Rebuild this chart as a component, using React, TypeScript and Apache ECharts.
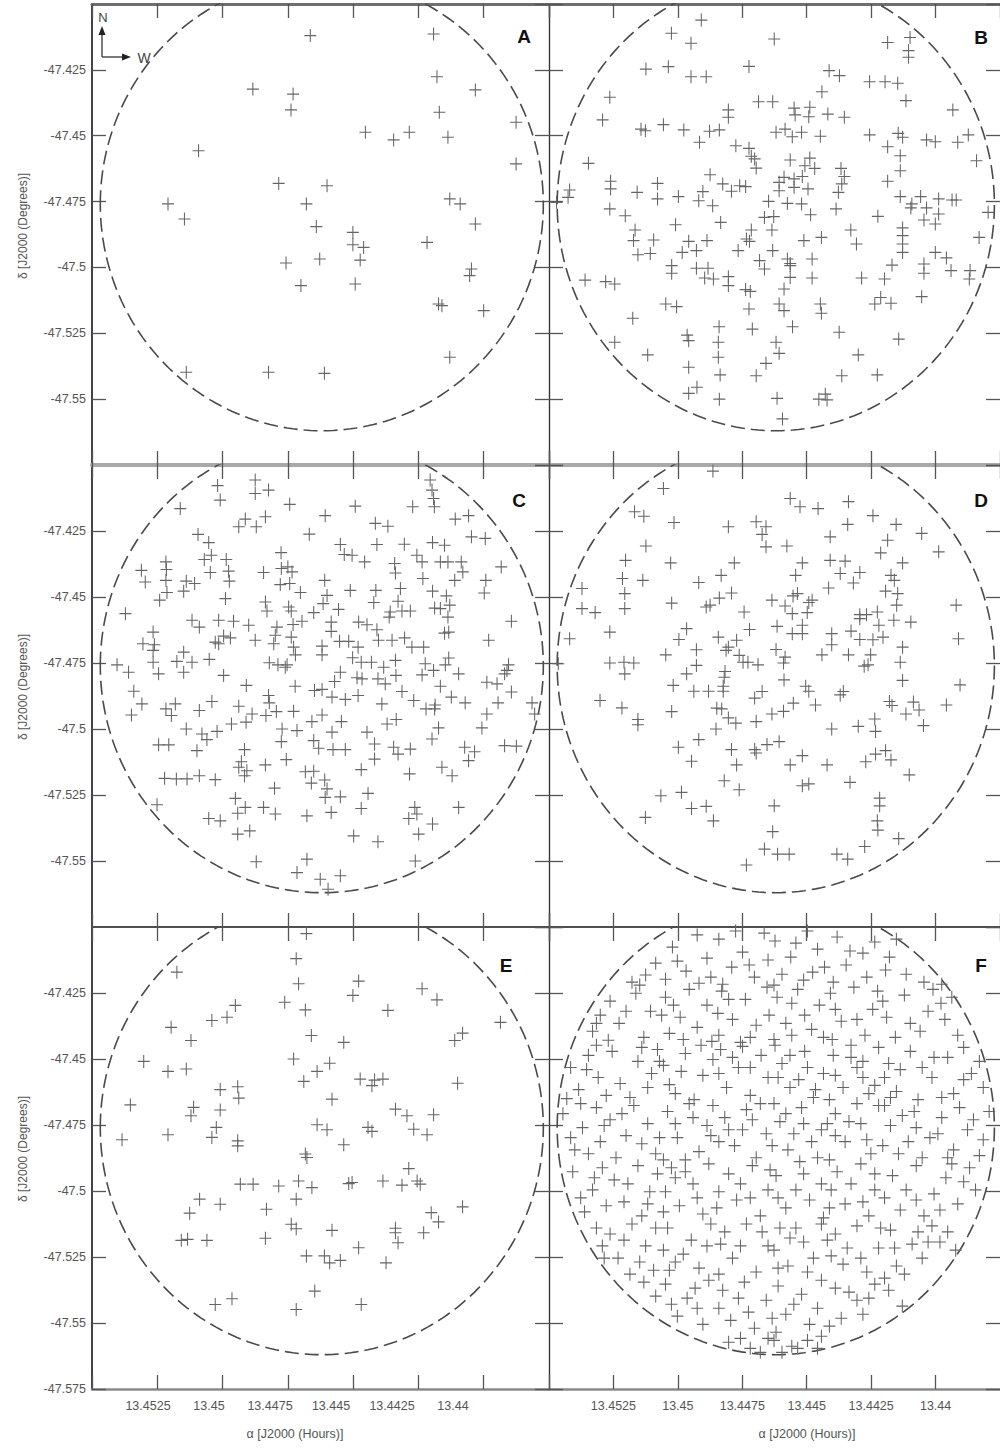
import { useEffect, useRef } from "react";
import * as echarts from "echarts";

const RA_MIN = 13.4375;
const RA_MAX = 13.455;
const RA_STEP = 0.0025;
const DEC_MIN = -47.575;
const DEC_MAX = -47.4;
const DEC_STEP = 0.025;

const FIELD_RA = 13.4462;
const FIELD_DEC = -47.476;
const FIELD_RADIUS_DEG = 0.086;

const panelLetters = ["A", "B", "C", "D", "E", "F"];
const xAxisTitle = "α [J2000 (Hours)]";
const yAxisTitle = "δ [J2000 (Degrees)]";

const panelA = [
[13.44664,-47.4120],[13.44192,-47.4114],[13.44179,-47.4276],[13.44032,-47.4326],[13.44884,-47.4323],[13.44730,-47.4342],[13.44738,-47.4402],[13.44170,-47.4411],[13.43876,-47.4449],[13.44453,-47.4487],[13.44345,-47.4516],[13.44285,-47.4487],[13.44137,-47.4506],[13.45092,-47.4557],[13.43876,-47.4607],[13.44785,-47.4681],[13.44600,-47.4690],[13.45209,-47.4759],[13.44679,-47.4759],[13.44130,-47.4740],[13.44090,-47.4759],[13.45146,-47.4816],[13.44641,-47.4845],[13.44032,-47.4835],[13.44501,-47.4867],[13.44501,-47.4914],[13.44460,-47.4924],[13.44217,-47.4905],[13.44628,-47.4968],[13.44473,-47.4972],[13.44757,-47.4983],[13.44047,-47.5006],[13.44054,-47.5031],[13.44700,-47.5069],[13.44492,-47.5063],[13.44173,-47.5139],[13.44160,-47.5145],[13.44000,-47.5164],[13.44130,-47.5341],[13.45139,-47.5398],[13.44824,-47.5398],[13.44610,-47.5402]
];

const panelB = [
[13.44909,-47.4061],[13.45025,-47.4111],[13.44626,-47.4133],[13.44949,-47.4149],[13.44186,-47.4146],[13.44099,-47.4127],[13.44105,-47.4177],[13.44105,-47.4202],[13.45124,-47.4247],[13.45037,-47.4238],[13.44724,-47.4237],[13.44949,-47.4276],[13.44890,-47.4276],[13.44413,-47.4253],[13.44373,-47.4272],[13.44256,-47.4295],[13.44196,-47.4295],[13.44147,-47.4301],[13.45264,-47.4354],[13.44441,-47.4333],[13.44115,-47.4367],[13.44687,-47.4371],[13.44632,-47.4371],[13.44804,-47.4402],[13.44804,-47.4430],[13.44549,-47.4395],[13.44488,-47.4392],[13.44545,-47.4421],[13.44492,-47.4428],[13.44418,-47.4418],[13.44354,-47.4430],[13.43933,-47.4402],[13.45292,-47.4440],[13.45143,-47.4475],[13.45126,-47.4481],[13.45056,-47.4458],[13.44977,-47.4478],[13.44877,-47.4483],[13.44839,-47.4478],[13.44619,-47.4487],[13.44584,-47.4475],[13.44556,-47.4504],[13.44520,-47.4487],[13.44447,-47.4502],[13.44256,-47.4497],[13.44145,-47.4491],[13.44128,-47.4506],[13.44035,-47.4516],[13.44001,-47.4523],[13.43914,-47.4525],[13.43873,-47.4497],[13.44916,-47.4525],[13.44775,-47.4538],[13.44724,-47.4548],[13.44715,-47.4578],[13.44702,-47.4588],[13.44696,-47.4623],[13.44564,-47.4592],[13.44488,-47.4585],[13.44507,-47.4614],[13.44469,-47.4624],[13.44186,-47.4542],[13.44137,-47.4576],[13.43841,-47.4595],[13.45347,-47.4605],[13.44875,-47.4648],[13.44367,-47.4624],[13.44354,-47.4655],[13.44137,-47.4633],[13.44186,-47.4673],[13.45261,-47.4673],[13.45261,-47.4702],[13.45079,-47.4681],[13.45158,-47.4715],[13.45079,-47.4740],[13.44998,-47.4731],[13.44903,-47.4712],[13.44826,-47.4683],[13.44792,-47.4711],[13.44760,-47.4690],[13.44737,-47.4693],[13.44607,-47.4677],[13.44588,-47.4658],[13.44549,-47.4664],[13.44549,-47.4696],[13.44517,-47.4655],[13.44495,-47.4702],[13.44607,-47.4709],[13.45420,-47.4706],[13.45426,-47.4734],[13.45471,-47.4753],[13.45264,-47.4778],[13.45204,-47.4804],[13.44919,-47.4747],[13.44865,-47.4766],[13.44648,-47.4749],[13.44575,-47.4757],[13.44520,-47.4759],[13.44377,-47.4715],[13.44364,-47.4683],[13.44386,-47.4778],[13.44137,-47.4731],[13.44092,-47.4759],[13.44058,-47.4731],[13.43988,-47.4740],[13.43936,-47.4744],[13.43920,-47.4744],[13.43796,-47.4791],[13.44096,-47.4774],[13.44035,-47.4774],[13.44664,-47.4810],[13.44628,-47.4807],[13.44485,-47.4800],[13.44224,-47.4806],[13.44045,-47.4820],[13.43988,-47.4797],[13.44001,-47.4835],[13.45009,-47.4838],[13.44834,-47.4829],[13.44715,-47.4858],[13.44635,-47.4858],[13.45166,-47.4858],[13.44329,-47.4858],[13.44128,-47.4850],[13.45172,-47.4898],[13.45094,-47.4896],[13.44958,-47.4901],[13.44887,-47.4898],[13.44734,-47.4892],[13.44722,-47.4901],[13.44511,-47.4898],[13.44443,-47.4886],[13.44307,-47.4911],[13.44128,-47.4879],[13.44128,-47.4911],[13.43831,-47.4886],[13.45155,-47.4952],[13.45107,-47.4947],[13.44983,-47.4943],[13.44928,-47.4936],[13.44766,-47.4936],[13.44632,-47.4936],[13.44575,-47.4968],[13.44564,-47.4985],[13.44128,-47.4943],[13.44001,-47.4943],[13.43958,-47.4964],[13.44683,-47.4974],[13.44664,-47.5006],[13.44479,-47.4968],[13.44169,-47.4991],[13.44045,-47.4987],[13.43866,-47.5012],[13.43940,-47.5012],[13.45024,-47.4993],[13.45024,-47.5022],[13.44928,-47.5003],[13.44883,-47.5003],[13.44564,-47.4993],[13.44564,-47.5038],[13.44479,-47.5040],[13.44287,-47.5040],[13.44198,-47.5044],[13.44045,-47.5022],[13.43869,-47.5044],[13.45360,-47.5048],[13.45280,-47.5054],[13.45245,-47.5063],[13.44896,-47.5040],[13.44862,-47.5044],[13.44804,-47.5035],[13.44804,-47.5069],[13.44737,-47.5084],[13.44719,-47.5091],[13.44588,-47.5082],[13.45047,-47.5139],[13.45005,-47.5149],[13.44724,-47.5158],[13.44607,-47.5139],[13.44588,-47.5164],[13.44447,-47.5139],[13.44443,-47.5174],[13.44236,-47.5139],[13.44213,-47.5114],[13.44173,-47.5136],[13.44054,-47.5111],[13.45175,-47.5193],[13.44840,-47.5225],[13.44711,-47.5234],[13.44555,-47.5225],[13.44964,-47.5257],[13.44958,-47.5278],[13.44374,-47.5246],[13.44143,-47.5272],[13.45245,-47.5284],[13.44843,-47.5284],[13.44619,-47.5284],[13.44607,-47.5326],[13.45117,-47.5332],[13.44843,-47.5341],[13.44300,-47.5332],[13.44658,-47.5364],[13.44958,-47.5379],[13.44836,-47.5408],[13.44696,-47.5411],[13.44364,-47.5411],[13.44226,-47.5408],[13.44958,-47.5478],[13.44926,-47.5455],[13.44839,-47.5500],[13.44615,-47.5497],[13.44453,-47.5500],[13.44428,-47.5481],[13.44421,-47.5503],[13.44594,-47.5575]
];

const panelC = [
[13.44875,-47.4057],[13.45019,-47.4078],[13.44875,-47.4108],[13.44824,-47.4095],[13.45009,-47.4133],[13.44743,-47.4149],[13.44492,-47.4156],[13.44272,-47.4158],[13.44205,-47.4057],[13.44198,-47.4095],[13.44192,-47.4127],[13.44189,-47.4158],[13.45162,-47.4165],[13.44607,-47.4192],[13.44913,-47.4205],[13.44836,-47.4196],[13.44938,-47.4234],[13.44871,-47.4234],[13.44415,-47.4221],[13.44367,-47.4232],[13.44109,-47.4205],[13.44058,-47.4192],[13.45094,-47.4263],[13.44668,-47.4262],[13.44047,-47.4272],[13.43994,-47.4278],[13.45053,-47.4294],[13.44549,-47.4301],[13.44409,-47.4301],[13.44304,-47.4300],[13.44196,-47.4294],[13.44150,-47.4304],[13.44776,-47.4332],[13.44534,-47.4339],[13.44504,-47.4342],[13.44256,-47.4342],[13.45217,-47.4367],[13.45070,-47.4358],[13.45043,-47.4342],[13.44986,-47.4358],[13.44456,-47.4367],[13.44341,-47.4373],[13.44236,-47.4367],[13.44166,-47.4367],[13.44137,-47.4367],[13.44086,-47.4367],[13.43933,-47.4386],[13.45311,-47.4399],[13.45215,-47.4396],[13.45047,-47.4407],[13.44977,-47.4402],[13.44843,-47.4407],[13.44775,-47.4392],[13.44750,-47.4386],[13.44734,-47.4405],[13.44338,-47.4409],[13.44080,-47.4405],[13.45296,-47.4443],[13.45217,-47.4437],[13.45139,-47.4440],[13.45107,-47.4449],[13.44974,-47.4440],[13.44779,-47.4453],[13.44743,-47.4449],[13.44609,-47.4437],[13.44233,-47.4430],[13.44111,-47.4437],[13.43992,-47.4437],[13.45213,-47.4483],[13.45149,-47.4478],[13.44702,-47.4483],[13.44600,-47.4494],[13.44511,-47.4475],[13.44413,-47.4475],[13.44319,-47.4468],[13.44196,-47.4478],[13.44143,-47.4496],[13.43998,-47.4485],[13.45241,-47.4512],[13.44989,-47.4506],[13.44836,-47.4519],[13.44747,-47.4538],[13.44615,-47.4525],[13.44421,-47.4521],[13.44328,-47.4516],[13.44188,-47.4542],[13.44166,-47.4544],[13.44130,-47.4531],[13.45372,-47.4563],[13.44830,-47.4553],[13.44737,-47.4553],[13.44651,-47.4559],[13.44556,-47.4547],[13.44358,-47.4557],[13.44313,-47.4553],[13.44281,-47.4553],[13.44137,-47.4576],[13.45117,-47.4588],[13.45015,-47.4588],[13.44958,-47.4592],[13.45089,-47.4614],[13.44900,-47.4607],[13.44792,-47.4614],[13.44730,-47.4604],[13.44696,-47.4592],[13.44584,-47.4595],[13.44479,-47.4595],[13.44447,-47.4605],[13.44362,-47.4576],[13.43894,-47.4592],[13.45266,-47.4633],[13.44996,-47.4648],[13.44970,-47.4655],[13.45015,-47.4677],[13.44875,-47.4664],[13.44798,-47.4645],[13.44737,-47.4652],[13.44584,-47.4630],[13.44517,-47.4668],[13.44481,-47.4690],[13.44409,-47.4624],[13.44403,-47.4664],[13.44351,-47.4664],[13.44303,-47.4655],[13.44150,-47.4637],[13.44134,-47.4633],[13.45305,-47.4677],[13.45261,-47.4681],[13.45266,-47.4702],[13.45149,-47.4709],[13.45028,-47.4671],[13.44804,-47.4677],[13.44728,-47.4690],[13.44619,-47.4686],[13.44552,-47.4668],[13.44275,-47.4690],[13.44230,-47.4690],[13.43981,-47.4664],[13.45404,-47.4757],[13.45266,-47.4747],[13.45175,-47.4744],[13.45117,-47.4747],[13.45051,-47.4736],[13.44821,-47.4749],[13.44788,-47.4757],[13.44753,-47.4757],[13.44721,-47.4719],[13.44619,-47.4719],[13.44502,-47.4730],[13.44469,-47.4747],[13.44430,-47.4747],[13.44383,-47.4766],[13.44338,-47.4740],[13.44134,-47.4731],[13.44147,-47.4757],[13.43905,-47.4757],[13.44224,-47.4753],[13.45360,-47.4785],[13.45245,-47.4791],[13.45149,-47.4785],[13.44996,-47.4797],[13.44760,-47.4766],[13.44549,-47.4785],[13.44485,-47.4806],[13.44466,-47.4810],[13.44405,-47.4810],[13.44336,-47.4797],[13.44236,-47.4795],[13.44192,-47.4778],[13.44096,-47.4791],[13.43920,-47.4791],[13.43911,-47.4778],[13.45340,-47.4857],[13.44909,-47.4835],[13.44722,-47.4838],[13.44648,-47.4854],[13.44619,-47.4850],[13.44571,-47.4820],[13.44377,-47.4829],[13.44313,-47.4858],[13.44166,-47.4838],[13.43988,-47.4823],[13.43949,-47.4829],[13.43894,-47.4860],[13.45309,-47.4905],[13.45181,-47.4905],[13.45041,-47.4896],[13.44824,-47.4873],[13.44821,-47.4901],[13.44581,-47.4879],[13.44530,-47.4888],[13.44481,-47.4873],[13.44390,-47.4905],[13.44268,-47.4892],[13.44124,-47.4879],[13.44071,-47.4901],[13.43815,-47.4901],[13.43945,-47.4901],[13.44186,-47.4909],[13.45349,-47.4947],[13.45217,-47.4924],[13.45196,-47.4949],[13.45089,-47.4930],[13.44938,-47.4914],[13.44887,-47.4943],[13.44794,-47.4934],[13.44728,-47.4933],[13.44619,-47.4947],[13.44221,-47.4924],[13.44188,-47.4924],[13.43988,-47.4943],[13.43805,-47.4943],[13.44966,-47.4981],[13.44910,-47.4974],[13.44834,-47.4949],[13.44658,-47.4972],[13.44545,-47.4972],[13.44335,-47.4964],[13.44370,-47.4981],[13.45139,-47.5000],[13.45021,-47.5009],[13.45079,-47.5019],[13.45060,-47.5040],[13.44772,-47.5000],[13.44715,-47.5006],[13.44581,-47.5012],[13.44447,-47.5012],[13.44173,-47.4996],[13.44007,-47.4996],[13.45098,-47.5082],[13.45245,-47.5060],[13.45206,-47.5060],[13.44775,-47.5048],[13.44916,-47.5078],[13.44651,-47.5044],[13.44632,-47.5073],[13.44577,-47.5078],[13.44530,-47.5078],[13.44418,-47.5057],[13.44345,-47.5069],[13.44281,-47.5076],[13.44198,-47.5038],[13.44073,-47.5069],[13.44035,-47.5086],[13.43920,-47.5063],[13.43875,-47.5065],[13.44928,-47.5124],[13.44836,-47.5136],[13.44756,-47.5116],[13.44418,-47.5114],[13.44328,-47.5095],[13.44058,-47.5120],[13.44938,-47.5145],[13.44907,-47.5158],[13.44916,-47.5177],[13.44469,-47.5154],[13.44160,-47.5145],[13.44121,-47.5177],[13.44651,-47.5160],[13.44683,-47.5162],[13.45222,-47.5187],[13.45177,-47.5189],[13.45136,-47.5189],[13.45089,-47.5177],[13.45028,-47.5192],[13.44660,-47.5205],[13.44609,-47.5193],[13.44284,-47.5170],[13.44801,-47.5224],[13.44600,-47.5227],[13.44443,-47.5244],[13.44607,-47.5259],[13.44549,-47.5257],[13.44951,-47.5263],[13.45251,-47.5287],[13.44913,-47.5297],[13.44843,-47.5297],[13.44469,-47.5301],[13.44264,-47.5297],[13.44096,-47.5297],[13.45053,-47.5339],[13.45009,-47.5348],[13.44942,-47.5319],[13.44798,-47.5322],[13.44677,-47.5329],[13.44584,-47.5316],[13.44287,-47.5339],[13.44256,-47.5322],[13.44942,-47.5398],[13.44896,-47.5386],[13.44498,-47.5405],[13.44405,-47.5427],[13.44249,-47.5398],[13.44196,-47.5360],[13.44871,-47.5503],[13.44677,-47.5493],[13.44262,-47.5500],[13.44715,-47.5544],[13.44626,-47.5569],[13.44549,-47.5556],[13.44596,-47.5607]
];

const panelD = [
[13.44864,-47.4023],[13.45056,-47.4089],[13.45168,-47.4177],[13.45132,-47.4194],[13.45015,-47.4218],[13.44564,-47.4127],[13.44526,-47.4158],[13.44456,-47.4165],[13.44338,-47.4139],[13.44243,-47.4192],[13.44341,-47.4225],[13.44804,-47.4234],[13.44696,-47.4215],[13.44658,-47.4234],[13.44673,-47.4263],[13.44153,-47.4225],[13.44054,-47.4259],[13.44409,-47.4272],[13.44186,-47.4285],[13.45124,-47.4307],[13.44658,-47.4310],[13.44577,-47.4307],[13.44213,-47.4333],[13.43988,-47.4329],[13.45203,-47.4361],[13.45028,-47.4371],[13.44781,-47.4371],[13.44517,-47.4371],[13.44409,-47.4361],[13.44351,-47.4364],[13.44128,-47.4371],[13.45215,-47.4430],[13.45136,-47.4437],[13.44832,-47.4418],[13.44543,-47.4418],[13.44370,-47.4411],[13.44294,-47.4407],[13.44173,-47.4418],[13.44160,-47.4437],[13.45372,-47.4468],[13.44919,-47.4445],[13.44415,-47.4466],[13.44319,-47.4447],[13.45206,-47.4487],[13.45206,-47.4544],[13.45024,-47.4523],[13.44890,-47.4538],[13.44875,-47.4531],[13.44839,-47.4504],[13.44792,-47.4485],[13.44635,-47.4512],[13.44584,-47.4534],[13.44553,-47.4496],[13.44536,-47.4487],[13.44492,-47.4521],[13.44479,-47.4512],[13.44194,-47.4478],[13.44147,-47.4487],[13.45372,-47.4544],[13.45321,-47.4559],[13.44743,-47.4557],[13.44556,-47.4563],[13.44498,-47.4559],[13.44294,-47.4567],[13.44268,-47.4567],[13.44226,-47.4557],[13.44151,-47.4531],[13.43920,-47.4531],[13.45264,-47.4633],[13.44966,-47.4620],[13.44722,-47.4623],[13.44615,-47.4611],[13.44556,-47.4639],[13.44517,-47.4607],[13.44517,-47.4639],[13.44403,-47.4639],[13.44328,-47.4629],[13.44294,-47.4582],[13.44220,-47.4607],[13.44162,-47.4588],[13.44096,-47.4595],[13.45420,-47.4658],[13.44996,-47.4661],[13.44843,-47.4652],[13.44772,-47.4664],[13.44804,-47.4690],[13.44403,-47.4681],[13.44294,-47.4661],[13.44243,-47.4662],[13.44204,-47.4652],[13.44128,-47.4690],[13.43911,-47.4658],[13.45047,-47.4719],[13.44928,-47.4700],[13.44813,-47.4702],[13.44762,-47.4721],[13.44619,-47.4699],[13.44584,-47.4728],[13.44441,-47.4719],[13.44338,-47.4719],[13.44252,-47.4719],[13.45264,-47.4750],[13.45209,-47.4747],[13.45171,-47.4750],[13.45464,-47.4753],[13.44928,-47.4759],[13.44747,-47.4747],[13.44728,-47.4747],[13.44689,-47.4757],[13.44590,-47.4750],[13.44137,-47.4747],[13.44277,-47.4762],[13.44262,-47.4757],[13.45206,-47.4791],[13.44966,-47.4791],[13.44817,-47.4782],[13.44820,-47.4804],[13.44588,-47.4814],[13.44128,-47.4816],[13.45018,-47.4835],[13.44938,-47.4857],[13.44881,-47.4857],[13.44824,-47.4838],[13.44824,-47.4857],[13.44673,-47.4858],[13.44504,-47.4838],[13.44492,-47.4857],[13.44370,-47.4871],[13.44358,-47.4858],[13.43905,-47.4833],[13.45302,-47.4892],[13.45217,-47.4920],[13.44702,-47.4883],[13.44552,-47.4902],[13.44466,-47.4909],[13.44179,-47.4896],[13.44169,-47.4911],[13.44086,-47.4898],[13.44064,-47.4928],[13.43958,-47.4909],[13.45024,-47.4934],[13.44849,-47.4921],[13.44830,-47.4924],[13.44804,-47.4958],[13.44775,-47.4978],[13.44635,-47.4943],[13.44590,-47.4933],[13.44403,-47.5000],[13.44300,-47.4990],[13.44236,-47.4962],[13.44115,-47.4943],[13.44047,-47.4987],[13.45155,-47.4964],[13.45155,-47.4984],[13.44852,-47.5000],[13.44696,-47.4972],[13.44233,-47.5009],[13.44919,-47.5040],[13.44998,-47.5069],[13.44792,-47.5078],[13.44702,-47.5078],[13.44696,-47.5091],[13.44654,-47.5059],[13.44607,-47.5048],[13.44517,-47.5101],[13.44233,-47.5095],[13.44194,-47.5082],[13.44173,-47.5117],[13.44947,-47.5122],[13.44772,-47.5136],[13.44564,-47.5136],[13.44421,-47.5136],[13.44271,-47.5124],[13.44102,-47.5174],[13.44820,-47.5196],[13.44762,-47.5230],[13.44517,-47.5215],[13.44492,-47.5208],[13.44332,-47.5202],[13.45066,-47.5253],[13.44986,-47.5240],[13.44217,-47.5262],[13.44217,-47.5291],[13.44947,-47.5301],[13.44890,-47.5293],[13.44626,-47.5291],[13.45126,-47.5335],[13.44862,-47.5348],[13.44226,-47.5348],[13.44632,-47.5389],[13.44224,-47.5383],[13.44143,-47.5415],[13.44664,-47.5455],[13.44613,-47.5474],[13.44568,-47.5474],[13.44383,-47.5474],[13.44341,-47.5493],[13.44275,-47.5445],[13.44734,-47.5515]
];

const panelE = [
[13.44718,-47.4120],[13.44709,-47.4215],[13.45175,-47.4171],[13.44479,-47.4205],[13.44501,-47.4259],[13.44236,-47.4234],[13.44179,-47.4276],[13.44762,-47.4285],[13.44951,-47.4297],[13.44683,-47.4314],[13.44367,-47.4316],[13.44983,-47.4342],[13.45041,-47.4354],[13.45197,-47.4380],[13.43936,-47.4361],[13.44081,-47.4402],[13.44111,-47.4430],[13.45121,-47.4430],[13.44660,-47.4411],[13.44536,-47.4437],[13.45302,-47.4509],[13.44728,-47.4500],[13.44590,-47.4516],[13.45209,-47.4547],[13.45139,-47.4538],[13.44638,-47.4547],[13.44689,-47.4585],[13.44473,-47.4576],[13.44418,-47.4580],[13.44386,-47.4576],[13.44428,-47.4601],[13.44100,-47.4592],[13.45009,-47.4616],[13.44942,-47.4605],[13.44938,-47.4648],[13.44581,-47.4652],[13.45353,-47.4674],[13.45111,-47.4683],[13.45121,-47.4715],[13.45009,-47.4693],[13.44338,-47.4690],[13.44294,-47.4715],[13.44192,-47.4711],[13.45024,-47.4759],[13.44638,-47.4749],[13.44600,-47.4768],[13.44443,-47.4759],[13.44268,-47.4766],[13.45385,-47.4806],[13.45209,-47.4787],[13.45041,-47.4797],[13.44942,-47.4810],[13.44942,-47.4829],[13.44536,-47.4825],[13.44217,-47.4787],[13.44428,-47.4774],[13.44683,-47.4860],[13.44677,-47.4873],[13.44287,-47.4915],[13.44932,-47.4974],[13.44883,-47.4974],[13.44785,-47.4981],[13.44709,-47.4962],[13.44658,-47.4987],[13.44517,-47.4972],[13.44504,-47.4968],[13.44386,-47.4962],[13.44313,-47.4978],[13.44255,-47.4962],[13.44243,-47.4974],[13.45088,-47.5031],[13.45009,-47.5050],[13.44718,-47.5031],[13.44832,-47.5069],[13.45126,-47.5084],[13.44081,-47.5060],[13.44201,-47.5082],[13.44173,-47.5117],[13.44737,-47.5126],[13.44718,-47.5143],[13.44581,-47.5149],[13.44338,-47.5141],[13.44338,-47.5158],[13.44230,-47.5158],[13.45158,-47.5187],[13.45134,-47.5183],[13.45060,-47.5187],[13.44836,-47.5179],[13.44328,-47.5196],[13.44479,-47.5215],[13.44679,-47.5246],[13.44610,-47.5246],[13.44590,-47.5272],[13.44549,-47.5263],[13.44374,-47.5272],[13.44647,-47.5379],[13.45028,-47.5430],[13.44964,-47.5408],[13.44718,-47.5449],[13.44469,-47.5430],[13.44679,-47.4025]
];

const panelF = [
[13.45125,-47.4182],[13.45178,-47.4209],[13.45086,-47.4137],[13.45021,-47.4076],[13.44925,-47.4030],[13.44968,-47.4167],[13.44887,-47.4118],[13.45048,-47.4198],[13.44918,-47.4213],[13.44841,-47.4046],[13.44749,-47.4095],[13.44665,-47.4023],[13.44791,-47.4152],[13.44703,-47.4190],[13.44826,-47.4217],[13.44650,-47.4125],[13.44623,-47.4053],[13.44497,-47.4015],[13.44562,-47.4114],[13.44458,-47.4084],[13.44596,-47.4179],[13.44512,-47.4201],[13.44431,-47.4152],[13.44382,-47.4038],[13.44282,-47.4099],[13.44347,-47.4144],[13.44236,-47.4057],[13.44397,-47.4209],[13.44267,-47.4190],[13.44179,-47.4114],[13.44114,-47.4179],[13.44045,-47.4209],[13.44152,-47.4046],[13.43976,-47.4217],
[13.45002,-47.4129],[13.44776,-47.4015],[13.44723,-47.4144],[13.44542,-47.4061],[13.44477,-47.4171],[13.44332,-47.4091],[13.44194,-47.4163],[13.45148,-47.4220],[13.44872,-47.4190],[13.44627,-47.4220],
[13.45331,-47.4395],[13.45301,-47.4334],[13.45263,-47.4281],[13.45163,-47.4251],[13.45228,-47.4365],[13.45106,-47.4319],[13.45132,-47.4418],[13.45270,-47.4429],[13.45048,-47.4266],[13.44956,-47.4236],[13.44991,-47.4342],[13.44887,-47.4296],[13.45033,-47.4403],[13.44925,-47.4380],[13.44868,-47.4433],[13.45063,-47.4334],[13.44830,-47.4243],[13.44738,-47.4274],[13.44654,-47.4228],[13.44788,-47.4350],[13.44696,-47.4372],[13.44841,-47.4410],[13.44646,-47.4334],[13.44757,-47.4437],[13.44615,-47.4266],[13.44535,-47.4236],[13.44451,-47.4296],[13.44581,-47.4365],[13.44481,-47.4388],[13.44627,-47.4426],[13.44508,-47.4334],[13.44435,-47.4418],[13.44408,-47.4251],[13.44317,-47.4228],[13.44244,-47.4312],[13.44366,-47.4357],[13.44274,-47.4410],[13.44401,-47.4426],[13.44225,-47.4243],[13.44190,-47.4342],[13.44121,-47.4258],[13.44029,-47.4319],[13.44156,-47.4418],[13.44060,-47.4395],[13.44010,-47.4236],[13.43964,-47.4350],[13.43914,-47.4410],[13.43979,-47.4289],
[13.45316,-47.4365],[13.45201,-47.4319],[13.45017,-47.4296],[13.44845,-47.4327],[13.44803,-47.4274],[13.44558,-47.4289],[13.44389,-47.4312],[13.44305,-47.4350],[13.44205,-47.4281],[13.44098,-47.4365],[13.43937,-47.4266],[13.44979,-47.4426],[13.44719,-47.4418],[13.44558,-47.4410],[13.44328,-47.4448],
[13.45416,-47.4532],[13.45347,-47.4486],[13.45385,-47.4616],[13.45309,-47.4570],[13.45431,-47.4650],[13.45255,-47.4471],[13.45155,-47.4509],[13.45224,-47.4593],[13.45102,-47.4555],[13.45186,-47.4646],[13.45079,-47.4464],[13.45056,-47.4524],[13.44971,-47.4479],[13.44903,-47.4562],[13.45010,-47.4631],[13.44937,-47.4654],[13.44864,-47.4502],[13.45033,-47.4597],[13.44834,-47.4464],[13.44765,-47.4532],[13.44677,-47.4486],[13.44811,-47.4608],[13.44719,-47.4638],[13.44650,-47.4570],[13.44749,-47.4452],[13.44596,-47.4517],[13.44508,-47.4471],[13.44435,-47.4555],[13.44565,-47.4608],[13.44474,-47.4646],[13.44623,-47.4448],[13.44531,-47.4578],[13.44397,-47.4486],[13.44305,-47.4532],[13.44221,-47.4456],[13.44359,-47.4608],[13.44259,-47.4631],[13.44412,-47.4654],[13.44282,-47.4570],[13.44182,-47.4517],[13.44098,-47.4471],[13.44014,-47.4570],[13.44152,-47.4623],[13.44068,-47.4654],[13.44198,-47.4570],[13.43953,-47.4494],[13.43861,-47.4555],[13.43930,-47.4631],[13.43815,-47.4608],[13.43891,-47.4456],
[13.45354,-47.4540],[13.45278,-47.4638],[13.45140,-47.4456],[13.45117,-47.4608],[13.44987,-47.4547],[13.44841,-47.4555],[13.44788,-47.4494],[13.44611,-47.4570],[13.44497,-47.4532],[13.44389,-47.4562],[13.44328,-47.4494],[13.44236,-47.4600],[13.44137,-47.4540],[13.44006,-47.4494],[13.43976,-47.4646],[13.43830,-47.4509],
[13.45316,-47.4448],[13.45071,-47.4509],[13.44910,-47.4448],[13.44719,-47.4532],[13.44565,-47.4486],[13.44466,-47.4616],[13.44282,-47.4509],[13.44175,-47.4646],[13.44052,-47.4532],[13.43891,-47.4578],
[13.45446,-47.4707],[13.45370,-47.4760],[13.45400,-47.4844],[13.45316,-47.4684],[13.45301,-47.4813],[13.45263,-47.4730],[13.45171,-47.4676],[13.45201,-47.4790],[13.45117,-47.4745],[13.45086,-47.4859],[13.45240,-47.4874],[13.45040,-47.4699],[13.44956,-47.4669],[13.44887,-47.4752],[13.45002,-47.4798],[13.44918,-47.4851],[13.45056,-47.4882],[13.44864,-47.4676],[13.44818,-47.4722],[13.44734,-47.4692],[13.44657,-47.4783],[13.44780,-47.4828],[13.44696,-47.4874],[13.44841,-47.4813],[13.44680,-47.4669],[13.44604,-47.4737],[13.44520,-47.4684],[13.44443,-47.4768],[13.44573,-47.4844],[13.44481,-47.4813],[13.44627,-47.4669],[13.44458,-47.4874],[13.44389,-47.4707],[13.44290,-47.4745],[13.44221,-47.4676],[13.44351,-47.4813],[13.44251,-47.4859],[13.44412,-47.4882],[13.44305,-47.4669],[13.44175,-47.4752],[13.44083,-47.4699],[13.44022,-47.4798],[13.44144,-47.4859],[13.44052,-47.4874],[13.44198,-47.4676],[13.43976,-47.4722],[13.43876,-47.4768],[13.43792,-47.4699],[13.43930,-47.4844],[13.43830,-47.4866],
[13.45416,-47.4798],[13.45347,-47.4859],[13.45217,-47.4707],[13.45140,-47.4821],[13.45010,-47.4745],[13.44971,-47.4882],[13.44872,-47.4790],[13.44749,-47.4768],[13.44711,-47.4730],[13.44550,-47.4783],[13.44512,-47.4745],[13.44389,-47.4790],[13.44336,-47.4737],[13.44267,-47.4806],[13.44129,-47.4714],[13.44106,-47.4813],[13.43991,-47.4783],[13.43907,-47.4684],[13.43815,-47.4806],
[13.45377,-47.4669],[13.45286,-47.4752],[13.45071,-47.4798],[13.44941,-47.4722],[13.44803,-47.4768],[13.44634,-47.4828],[13.44581,-47.4707],[13.44420,-47.4745],[13.44205,-47.4828],[13.44075,-47.4760],[13.43953,-47.4874],[13.43853,-47.4730],
[13.45408,-47.4927],[13.45331,-47.4996],[13.45362,-47.5079],[13.45293,-47.4912],[13.45247,-47.4958],[13.45155,-47.4904],[13.45209,-47.5041],[13.45109,-47.5003],[13.45140,-47.5094],[13.45079,-47.4935],[13.45025,-47.4912],[13.44941,-47.4973],[13.44880,-47.4897],[13.44994,-47.5056],[13.44903,-47.5087],[13.45048,-47.5003],[13.44803,-47.4935],[13.44711,-47.4904],[13.44650,-47.4996],[13.44772,-47.5034],[13.44680,-47.5094],[13.44841,-47.5003],[13.44619,-47.4942],[13.44527,-47.4889],[13.44443,-47.4973],[13.44581,-47.5064],[13.44489,-47.5034],[13.44435,-47.5102],[13.44382,-47.4927],[13.44290,-47.4897],[13.44236,-47.4996],[13.44351,-47.5049],[13.44259,-47.5094],[13.44405,-47.4996],[13.44167,-47.4942],[13.44075,-47.4904],[13.44006,-47.5011],[13.44137,-47.5072],[13.44045,-47.5094],[13.43960,-47.4950],[13.43868,-47.4912],[13.43914,-47.5049],[13.43845,-47.4996],
[13.45377,-47.5026],[13.45278,-47.5056],[13.45194,-47.4973],[13.45056,-47.5079],[13.44971,-47.4927],[13.44925,-47.5026],[13.44757,-47.4973],[13.44642,-47.4920],[13.44611,-47.5026],[13.44542,-47.4996],[13.44412,-47.5064],[13.44328,-47.4973],[13.44198,-47.5026],[13.44114,-47.4996],[13.43983,-47.5072],[13.43937,-47.4897],
[13.45324,-47.4950],[13.45117,-47.5049],[13.45010,-47.4950],[13.44849,-47.5064],[13.44719,-47.5026],[13.44512,-47.4935],[13.44282,-47.5041],[13.44236,-47.4935],[13.44075,-47.5034],[13.43891,-47.4965],
[13.45316,-47.5140],[13.45293,-47.5208],[13.45263,-47.5163],[13.45178,-47.5125],[13.45232,-47.5254],[13.45125,-47.5208],[13.45094,-47.5300],[13.45186,-47.5315],[13.45040,-47.5140],[13.44948,-47.5186],[13.44872,-47.5125],[13.45010,-47.5269],[13.44918,-47.5292],[13.45056,-47.5224],[13.44818,-47.5155],[13.44734,-47.5125],[13.44650,-47.5208],[13.44788,-47.5254],[13.44696,-47.5307],[13.44841,-47.5315],[13.44604,-47.5140],[13.44512,-47.5193],[13.44443,-47.5125],[13.44573,-47.5284],[13.44474,-47.5254],[13.44627,-47.5224],[13.44389,-47.5163],[13.44305,-47.5132],[13.44221,-47.5216],[13.44359,-47.5277],[13.44267,-47.5307],[13.44405,-47.5246],[13.44175,-47.5148],[13.44091,-47.5201],[13.44014,-47.5132],[13.44152,-47.5284],[13.44052,-47.5254],[13.43953,-47.5155],[13.43922,-47.5224],
[13.45209,-47.5186],[13.45148,-47.5269],[13.45086,-47.5140],[13.44979,-47.5239],[13.44887,-47.5208],[13.44757,-47.5208],[13.44673,-47.5155],[13.44542,-47.5140],[13.44497,-47.5307],[13.44420,-47.5186],[13.44343,-47.5216],[13.44213,-47.5140],[13.44121,-47.5315],[13.43983,-47.5193],[13.44068,-47.5155],
[13.45286,-47.5254],[13.45033,-47.5300],[13.44834,-47.5201],[13.44611,-47.5292],[13.44565,-47.5178],[13.44290,-47.5254],[13.44159,-47.5216],[13.44029,-47.5193],
[13.45132,-47.5345],[13.45086,-47.5398],[13.45048,-47.5353],[13.44964,-47.5406],[13.44880,-47.5338],[13.45002,-47.5474],[13.44903,-47.5505],[13.44933,-47.5368],[13.44826,-47.5376],[13.44742,-47.5345],[13.44657,-47.5414],[13.44795,-47.5490],[13.44703,-47.5520],[13.44841,-47.5444],[13.44611,-47.5360],[13.44520,-47.5391],[13.44443,-47.5338],[13.44581,-47.5467],[13.44489,-47.5505],[13.44619,-47.5535],[13.44389,-47.5368],[13.44305,-47.5414],[13.44236,-47.5353],[13.44366,-47.5482],[13.44282,-47.5467],[13.44182,-47.5376],[13.44129,-47.5436],[13.44198,-47.5330],
[13.45025,-47.5429],[13.44925,-47.5444],[13.44765,-47.5406],[13.44634,-47.5482],[13.44550,-47.5429],[13.44458,-47.5444],[13.44336,-47.5383],[13.44412,-47.5512],[13.44259,-47.5406],[13.44726,-47.5459],
[13.44803,-47.5573],[13.44719,-47.5596],[13.44650,-47.5558],[13.44558,-47.5588],[13.44497,-47.5566],[13.44596,-47.5611],[13.44443,-47.5550],[13.44680,-47.5611],
[13.44757,-47.5558],[13.44627,-47.5566],[13.44535,-47.5596],[13.44458,-47.5596]
];

const ALL_PANELS = [panelA, panelB, panelC, panelD, panelE, panelF];

const COL_LEFT = [92, 549];
const PANEL_W = 457;
const ROW_TOP = [4, 465, 927];
const ROW_H = [461, 462, 462];

const fmt = (v: number) => String(parseFloat(v.toFixed(4)));

function buildOption() {
  const rRA = FIELD_RADIUS_DEG / (15 * Math.cos((FIELD_DEC * Math.PI) / 180));
  const circle: number[][] = [];
  for (let k = 0; k <= 240; k++) {
    const t = (k / 240) * 2 * Math.PI;
    circle.push([FIELD_RA + rRA * Math.cos(t), FIELD_DEC + FIELD_RADIUS_DEG * Math.sin(t)]);
  }

  const topLine = [
    { color: "#6e6e6e", width: 3 },
    { color: "#a9a9a9", width: 4 },
    { color: "#444", width: 1.5 },
  ];
  const bottomLine = [
    { color: "#a9a9a9", width: 4 },
    { color: "#444", width: 1.5 },
    { color: "#8a8a8a", width: 2.5 },
  ];
  const tick = { show: true, inside: true, length: 14, lineStyle: { color: "#555", width: 1.3 } };
  const labelStyle = { color: "#555", fontSize: 12.5, fontFamily: "Liberation Sans, Arial, sans-serif" };

  const grid: any[] = [];
  const xAxis: any[] = [];
  const yAxis: any[] = [];
  const series: any[] = [];

  ALL_PANELS.forEach((data, i) => {
    const col = i % 2;
    const row = Math.floor(i / 2);
    grid.push({ left: COL_LEFT[col], top: ROW_TOP[row], width: PANEL_W, height: ROW_H[row] });
    const xBase = {
      type: "value", gridIndex: i, min: RA_MIN, max: RA_MAX, interval: RA_STEP, inverse: true,
      splitLine: { show: false }, axisTick: tick,
    };
    xAxis.push({
      ...xBase, position: "bottom",
      axisLine: { show: true, lineStyle: bottomLine[row] },
      axisLabel: { show: i === 5, ...labelStyle, margin: 10, formatter: fmt, showMinLabel: false, showMaxLabel: false },
    });
    xAxis.push({
      ...xBase, position: "top",
      axisLine: { show: true, lineStyle: topLine[row] },
      axisLabel: { show: false },
    });
    const yBase = {
      type: "value", gridIndex: i, min: DEC_MIN, max: DEC_MAX, interval: DEC_STEP,
      splitLine: { show: false }, axisTick: tick,
    };
    yAxis.push({
      ...yBase, position: "left",
      axisLine: { show: true, lineStyle: col === 0 ? { color: "#444", width: 2 } : { color: "#333", width: 1.2 } },
      axisLabel: { show: col === 0, ...labelStyle, margin: 6, formatter: fmt, showMinLabel: row === 2, showMaxLabel: false },
    });
    yAxis.push({
      ...yBase, position: "right",
      axisLine: { show: col === 0, lineStyle: { color: "#333", width: 1.2 } },
      axisLabel: { show: false },
    });
    series.push({
      type: "line", xAxisIndex: 2 * i, yAxisIndex: 2 * i, data: circle, symbol: "none", silent: true,
      lineStyle: { color: "#4a4a4a", width: 1.6, type: [14, 6] }, z: 2, clip: true,
    });
    series.push({
      type: "scatter", xAxisIndex: 2 * i, yAxisIndex: 2 * i, data, silent: true,
      symbol: "path://M0,5H10M5,0V10", symbolSize: [12, 13],
      itemStyle: { color: "rgba(0,0,0,0)", borderColor: "#666", borderWidth: 1.1, opacity: 1 },
      z: 3, clip: true,
    });
  });

  grid.push({ left: 87, top: 1388, width: 427, height: 1 });
  xAxis.push({
    type: "value", gridIndex: 6, min: RA_MIN, max: RA_MAX, interval: RA_STEP, inverse: true,
    axisLine: { show: false }, axisTick: { show: false }, splitLine: { show: false },
    axisLabel: { show: true, ...labelStyle, margin: 10, formatter: fmt, showMinLabel: false, showMaxLabel: false },
  });
  yAxis.push({ type: "value", gridIndex: 6, show: false });

  const letterPos = [
    [524, 36], [981, 37], [519, 500], [981, 500], [506, 965], [981, 965],
  ];
  const graphic: any[] = panelLetters.map((l, i) => ({
    type: "text", x: letterPos[i][0], y: letterPos[i][1], z: 10,
    style: { text: l, fill: "#111", font: "bold 19px Liberation Sans, Arial, sans-serif", align: "center", verticalAlign: "middle" },
  }));
  [295, 807].forEach((x) =>
    graphic.push({
      type: "text", x, y: 1434, z: 10,
      style: { text: xAxisTitle, fill: "#555", font: "12.5px Liberation Sans, Arial, sans-serif", align: "center", verticalAlign: "middle" },
    })
  );
  ROW_TOP.forEach((t) =>
    graphic.push({
      type: "text", x: 23, y: t + 222, rotation: Math.PI / 2, z: 10,
      style: { text: yAxisTitle, fill: "#555", font: "12px Liberation Sans, Arial, sans-serif", align: "center", verticalAlign: "middle" },
    })
  );
  graphic.push(
    { type: "line", z: 10, shape: { x1: 102, y1: 57, x2: 102, y2: 33 }, style: { stroke: "#333", lineWidth: 1.3 } },
    { type: "polygon", z: 10, shape: { points: [[98.5, 35], [105.5, 35], [102, 26]] }, style: { fill: "#222" } },
    { type: "line", z: 10, shape: { x1: 102, y1: 57, x2: 124, y2: 57 }, style: { stroke: "#333", lineWidth: 1.3 } },
    { type: "polygon", z: 10, shape: { points: [[122, 53.5], [122, 60.5], [131, 57]] }, style: { fill: "#222" } },
    { type: "text", z: 10, x: 103, y: 17, style: { text: "N", fill: "#444", font: "13px Liberation Sans, Arial, sans-serif", align: "center", verticalAlign: "middle" } },
    { type: "text", z: 10, x: 144, y: 58, style: { text: "W", fill: "#444", font: "14px Liberation Sans, Arial, sans-serif", align: "center", verticalAlign: "middle" } }
  );

  return { animation: false, backgroundColor: "#fff", grid, xAxis, yAxis, series, graphic };
}

export default function App() {
  const ref = useRef<HTMLDivElement>(null);
  useEffect(() => {
    const chart = echarts.init(ref.current!, null, { renderer: "svg" });
    chart.setOption(buildOption() as any);
    return () => chart.dispose();
  }, []);
  return (
    <div style={{ position: "fixed", left: 0, top: 0, width: 1000, height: 1448, overflow: "hidden", background: "#fff" }}>
      <div ref={ref} style={{ width: 1000, height: 1448 }} />
    </div>
  );
}
